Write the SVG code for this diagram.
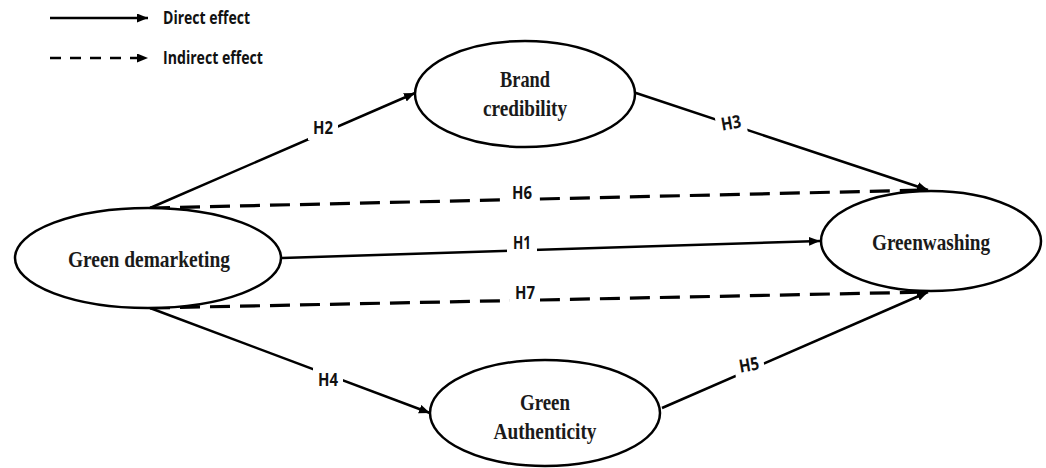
<svg xmlns="http://www.w3.org/2000/svg" width="1046" height="468" viewBox="0 0 1046 468">
<style>
.node{fill:#fff;stroke:#000;stroke-width:2.5}
.nt{font-family:"Liberation Serif","Times New Roman",serif;font-weight:bold;font-size:24px;fill:#1a1a1a;text-anchor:middle}
.ln{fill:none;stroke:#000;stroke-width:2.5}
.dash{stroke-dasharray:20 10;stroke-width:3.2}
.lab{font-family:"Open Sans","Liberation Sans",sans-serif;font-weight:bold;font-size:18px;fill:#111;text-anchor:middle}
.lbg{fill:#fff;stroke:none}
.leg{font-family:"Open Sans","Liberation Sans",sans-serif;font-weight:bold;font-size:17px;fill:#111}
</style>
<defs>
<marker id="arr" markerUnits="userSpaceOnUse" markerWidth="12" markerHeight="10" refX="11" refY="4.5" orient="auto">
<path d="M0,0 L11,4.5 L0,9 z" fill="#000"/>
</marker>
</defs>
<g id="legend">
<line class="ln" x1="50" y1="18" x2="148" y2="18" marker-end="url(#arr)"/>
<text class="leg" x="163" y="24" textLength="87" lengthAdjust="spacingAndGlyphs">Direct effect</text>
<line class="ln" x1="50" y1="58" x2="148" y2="58" stroke-dasharray="11 9" stroke-width="3.2" marker-end="url(#arr)"/>
<text class="leg" x="163" y="64" textLength="100" lengthAdjust="spacingAndGlyphs">Indirect effect</text>
</g>
<g id="connectors">
<line class="ln" x1="150" y1="208" x2="415" y2="93" marker-end="url(#arr)"/>
<line class="ln" x1="633" y1="92" x2="928" y2="190" marker-end="url(#arr)"/>
<line class="ln dash" x1="150" y1="208" x2="928" y2="190" marker-end="url(#arr)"/>
<line class="ln" x1="282" y1="258" x2="820" y2="241" marker-end="url(#arr)"/>
<line class="ln dash" x1="150" y1="308" x2="928" y2="292" marker-end="url(#arr)"/>
<line class="ln" x1="150" y1="308" x2="430" y2="413" marker-end="url(#arr)"/>
<line class="ln" x1="662" y1="408" x2="928" y2="292" marker-end="url(#arr)"/>
<g id="lab-h2"><rect class="lbg" x="308" y="116" width="30" height="24"/><text class="lab" x="323" y="134" textLength="20" lengthAdjust="spacingAndGlyphs">H2</text></g>
<g id="lab-h3" transform="rotate(-10 731 123)"><rect class="lbg" x="716" y="111" width="30" height="24"/><text class="lab" x="731" y="129" textLength="20" lengthAdjust="spacingAndGlyphs">H3</text></g>
<g id="lab-h6"><rect class="lbg" x="507" y="181" width="30" height="24"/><text class="lab" x="522" y="199" textLength="20" lengthAdjust="spacingAndGlyphs">H6</text></g>
<g id="lab-h1"><rect class="lbg" x="507" y="231" width="30" height="24"/><text class="lab" x="522" y="249" textLength="18" lengthAdjust="spacingAndGlyphs">H1</text></g>
<g id="lab-h7"><rect class="lbg" x="510" y="281" width="30" height="24"/><text class="lab" x="525" y="299" textLength="20" lengthAdjust="spacingAndGlyphs">H7</text></g>
<g id="lab-h4"><rect class="lbg" x="313" y="368" width="30" height="24"/><text class="lab" x="328" y="386" textLength="20" lengthAdjust="spacingAndGlyphs">H4</text></g>
<g id="lab-h5" transform="rotate(-10 749 365)"><rect class="lbg" x="734" y="353" width="30" height="24"/><text class="lab" x="749" y="371" textLength="20" lengthAdjust="spacingAndGlyphs">H5</text></g>
</g>
<g id="node-green-demarketing">
<ellipse class="node" cx="148" cy="258" rx="133" ry="50"/>
<text class="nt" x="149" y="267" textLength="162" lengthAdjust="spacingAndGlyphs">Green demarketing</text>
</g>
<g id="node-brand-credibility">
<ellipse class="node" cx="525" cy="94" rx="110" ry="53"/>
<text class="nt" x="525" y="87" textLength="50" lengthAdjust="spacingAndGlyphs">Brand</text>
<text class="nt" x="525" y="116" textLength="84" lengthAdjust="spacingAndGlyphs">credibility</text>
</g>
<g id="node-greenwashing">
<ellipse class="node" cx="931" cy="241" rx="110" ry="50"/>
<text class="nt" x="931" y="250" textLength="118" lengthAdjust="spacingAndGlyphs">Greenwashing</text>
</g>
<g id="node-green-authenticity">
<ellipse class="node" cx="545" cy="413" rx="115" ry="53"/>
<text class="nt" x="545" y="410" textLength="50" lengthAdjust="spacingAndGlyphs">Green</text>
<text class="nt" x="545" y="439" textLength="103" lengthAdjust="spacingAndGlyphs">Authenticity</text>
</g>
</svg>
